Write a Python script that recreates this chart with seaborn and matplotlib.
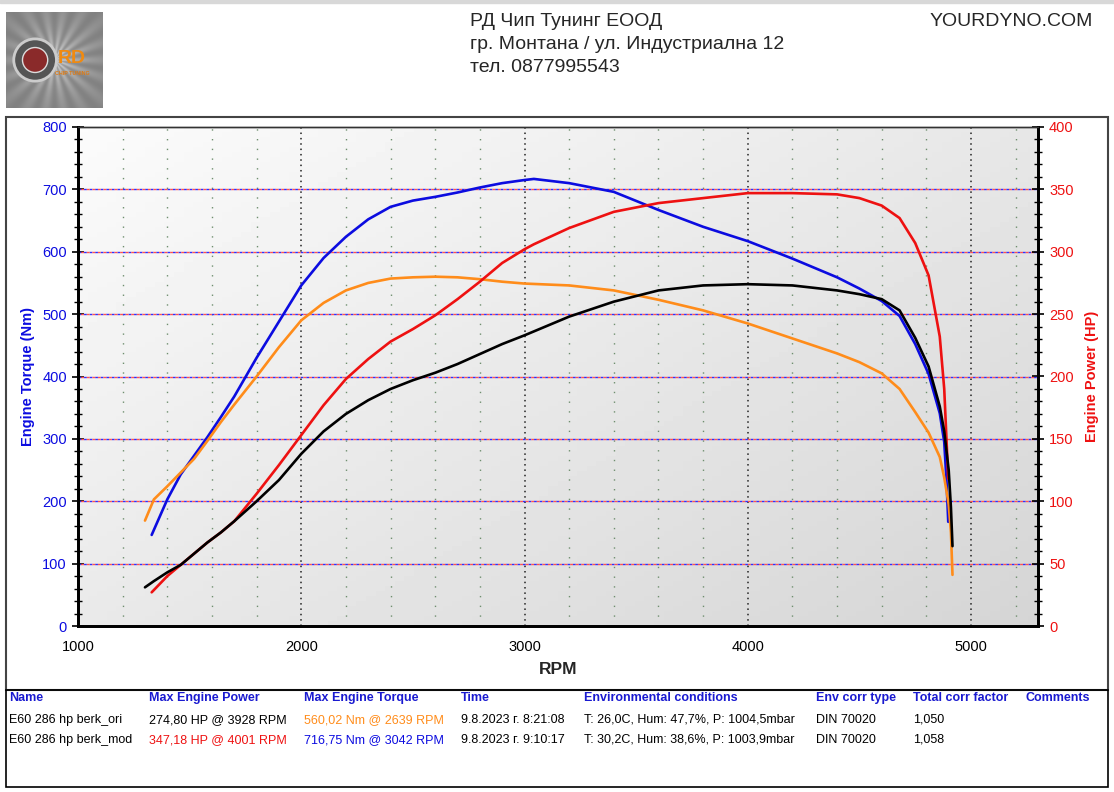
import numpy as np
import pandas as pd
import matplotlib
matplotlib.use("Agg")
import matplotlib.pyplot as plt
import seaborn as sns
from matplotlib.patches import Rectangle, Circle

# run 1: original (torque orange, power black)
ori_rpm = [1300, 1340, 1400, 1460, 1520, 1580, 1640, 1700, 1800, 1900, 2000, 2100, 2200,
           2300, 2400, 2500, 2600, 2700, 2800, 2900, 3000, 3200, 3400, 3600, 3800, 4000,
           4200, 4400, 4500, 4600, 4680, 4750, 4810, 4860, 4880, 4900, 4910, 4917]
ori_torque = [169, 203, 224, 246, 268, 297, 327, 355, 400, 447, 490, 518, 538,
              550, 557, 559, 560, 559, 556, 552, 549, 546, 538, 523, 506, 485,
              461, 437, 423, 405, 380, 343, 310, 271, 238, 195, 150, 82]
ori_power = [31, 36, 43, 49, 58, 67, 75, 84, 100, 117, 138, 156, 170,
             181, 190, 197, 203, 210, 218, 226, 233, 248, 260, 269, 273, 274,
             273, 269, 266, 262, 253, 231, 208, 176, 156, 125, 95, 64]

# run 2: modified (torque blue, power red)
mod_rpm = [1330, 1400, 1460, 1520, 1580, 1640, 1700, 1800, 1900, 2000, 2100, 2200, 2300,
           2400, 2500, 2600, 2700, 2800, 2900, 3000, 3042, 3200, 3400, 3600, 3800, 4000,
           4200, 4400, 4500, 4600, 4680, 4750, 4810, 4860, 4880, 4890, 4898]
mod_torque = [146, 203, 243, 273, 303, 335, 368, 430, 488, 546, 590, 624, 652,
              672, 682, 688, 695, 703, 710, 715, 716.75, 710, 696, 667, 640, 617,
              589, 559, 541, 521, 497, 452, 404, 341, 295, 234, 167]
mod_power = [27, 40, 49, 58, 67, 75, 84, 106, 129, 153, 177, 198, 214,
             228, 238, 249, 262, 276, 291, 302, 306, 319, 332, 339, 343, 347,
             347, 346, 343, 337, 327, 307, 281, 232, 190, 150, 118]

torque_ticks = [0, 100, 200, 300, 400, 500, 600, 700, 800]
power_ticks = [0, 50, 100, 150, 200, 250, 300, 350, 400]
rpm_ticks = [1000, 2000, 3000, 4000, 5000]

header_lines = ["РД Чип Тунинг ЕООД", "гр. Монтана / ул. Индустриална 12", "тел. 0877995543"]
site_name = "YOURDYNO.COM"

table_cols = ["Name", "Max Engine Power", "Max Engine Torque", "Time",
              "Environmental conditions", "Env corr type", "Total corr factor", "Comments"]
table_rows = [
    ["E60 286 hp berk_ori", "274,80 HP @ 3928 RPM", "560,02 Nm @ 2639 RPM",
     "9.8.2023 г. 8:21:08", "T: 26,0C, Hum: 47,7%, P: 1004,5mbar", "DIN 70020", "1,050", ""],
    ["E60 286 hp berk_mod", "347,18 HP @ 4001 RPM", "716,75 Nm @ 3042 RPM",
     "9.8.2023 г. 9:10:17", "T: 30,2C, Hum: 38,6%, P: 1003,9mbar", "DIN 70020", "1,058", ""],
]

BLUE = "#0c0ce0"
RED = "#ee1111"
ORANGE = "#ff8c1a"

row_colors = [["black", "black", ORANGE, "black", "black", "black", "black", "black"],
              ["black", RED, BLUE, "black", "black", "black", "black", "black"]]
col_x = [9, 149, 304, 461, 584, 816, 913, 1025]

ori = pd.DataFrame({"rpm": ori_rpm, "torque": ori_torque, "power": ori_power})
mod = pd.DataFrame({"rpm": mod_rpm, "torque": mod_torque, "power": mod_power})

sns.set_style("white")
plt.rcParams["font.family"] = ["Liberation Sans", "DejaVu Sans"]

W, H = 1114, 792
fig = plt.figure(figsize=(W / 100, H / 100), dpi=100)


def fx(px):
    return px / W


def fy(py):
    return 1 - py / H


# top grey band
fig.patches.append(Rectangle((0, fy(3)), 1, 3 / H, transform=fig.transFigure,
                             color="#d8d8d8", zorder=0))

# frames
fig.patches.append(Rectangle((fx(6), fy(690)), fx(1102), (690 - 117) / H, transform=fig.transFigure,
                             fill=False, ec="#444444", lw=1.5))
fig.patches.append(Rectangle((fx(6), fy(787)), fx(1102), (787 - 690) / H, transform=fig.transFigure,
                             fill=False, ec="black", lw=1.2))

# logo
lax = fig.add_axes([fx(6), fy(108), fx(97), 96 / H])
yy, xx = np.mgrid[-1:1:200j, -1:1:200j]
ang = np.arctan2(yy, xx)
rad = np.hypot(xx, yy)
logo_img = 0.55 + 0.25 * np.cos(ang * 9) ** 2 * np.exp(-rad * 1.2) + 0.2 * np.exp(-rad * 3)
lax.imshow(logo_img, cmap="gray", vmin=0, vmax=1.1, extent=[0, 1, 0, 1], aspect="auto")
lax.add_patch(Circle((0.3, 0.5), 0.22, fc="#555555", ec="#cccccc", lw=2))
lax.add_patch(Circle((0.3, 0.5), 0.13, fc="#8a2a2a", ec="#dddddd", lw=1))
lax.text(0.68, 0.52, "RD", color="#f08a10", fontsize=14, fontweight="bold",
         ha="center", va="center")
lax.text(0.68, 0.36, "CHIP TUNING", color="#e07a10", fontsize=3.8, fontweight="bold",
         ha="center", va="center")
lax.set_axis_off()

# header
for i, line in enumerate(header_lines):
    fig.text(fx(470), fy(22 + i * 22.5), line, fontsize=14, ha="left", va="center")
fig.text(fx(1093), fy(22), site_name, fontsize=14, ha="right", va="center")

# plot area
pos = [fx(78), fy(626), fx(1038 - 78), (626 - 127) / H]
bg = fig.add_axes(pos, zorder=0)
gy, gx = np.mgrid[0:1:100j, 0:1:100j]
grad = 0.985 - 0.08 * gx - 0.07 * gy
bg.imshow(grad, cmap="gray", vmin=0, vmax=1, extent=[0, 1, 0, 1], aspect="auto", origin="upper")
bg.set_axis_off()

ax = fig.add_axes(pos, zorder=1)
ax.patch.set_visible(False)
ax.set_xlim(1000, 5300)
ax.set_ylim(0, 800)

# grid
for r in range(1200, 5300, 200):
    if r % 1000 == 0:
        ax.axvline(r, color="#222222", ls=(0, (1, 2.5)), lw=1.1, zorder=1)
    else:
        ax.axvline(r, color="#6f8f6f", ls=(0, (1, 6)), lw=1.0, zorder=1)
for v in torque_ticks[1:-1]:
    ax.axhline(v, color="#3030ff", ls=(0, (2, 2)), lw=1.0, zorder=1)
    ax.axhline(v, color="#ff5050", ls=(2, (2, 2)), lw=1.0, zorder=1)

sns.lineplot(data=mod, x="rpm", y="torque", ax=ax, color=BLUE, lw=1.9, sort=False, zorder=3)
sns.lineplot(data=ori, x="rpm", y="torque", ax=ax, color=ORANGE, lw=1.9, sort=False, zorder=3)

ax2 = ax.twinx()
ax2.set_ylim(0, 400)
sns.lineplot(data=mod, x="rpm", y="power", ax=ax2, color=RED, lw=1.9, sort=False, zorder=3)
sns.lineplot(data=ori, x="rpm", y="power", ax=ax2, color="black", lw=1.9, sort=False, zorder=3)
ax.set_xlim(1000, 5300)

ax.set_xticks(rpm_ticks)
ax.set_xticks(range(1200, 5300, 200), minor=True)
ax.set_yticks(torque_ticks)
ax.set_yticks(range(0, 801, 20), minor=True)
ax2.set_yticks(power_ticks)
ax2.set_yticks(range(0, 401, 10), minor=True)

ax.tick_params(axis="x", which="major", direction="inout", length=8, width=1.2,
               labelsize=10.5, pad=6, colors="black")
ax.tick_params(axis="x", which="minor", direction="inout", length=6, width=1)
ax.tick_params(axis="y", which="major", direction="inout", length=8, width=1.2,
               labelsize=10.5, pad=4, labelcolor=BLUE, color="black")
ax.tick_params(axis="y", which="minor", direction="inout", length=6, width=1, color="black")
ax2.tick_params(axis="y", which="major", direction="inout", length=8, width=1.2,
                labelsize=10.5, pad=4, labelcolor=RED, color="black")
ax2.tick_params(axis="y", which="minor", direction="inout", length=6, width=1, color="black")

for a in (ax, ax2):
    for side in ("left", "right", "bottom"):
        a.spines[side].set_linewidth(2)
        a.spines[side].set_color("black")
    a.spines["top"].set_linewidth(1)
    a.spines["top"].set_color("#333333")

ax.set_xlabel("RPM", fontsize=12.5, fontweight="bold", labelpad=6)
ax.set_ylabel("Engine Torque (Nm)", fontsize=10.5, fontweight="bold", color=BLUE, labelpad=5)
ax2.set_ylabel("Engine Power (HP)", fontsize=10.5, fontweight="bold", color=RED, labelpad=8)

# result table
for j, col in enumerate(table_cols):
    fig.text(fx(col_x[j]), fy(698), col, fontsize=9, fontweight="bold", color="#1a1ad0",
             ha="left", va="center")
for i, row in enumerate(table_rows):
    for j, cell in enumerate(row):
        fig.text(fx(col_x[j]), fy(720 + i * 20), cell, fontsize=9, color=row_colors[i][j],
                 ha="left", va="center")

fig.savefig("out.png", dpi=100)
